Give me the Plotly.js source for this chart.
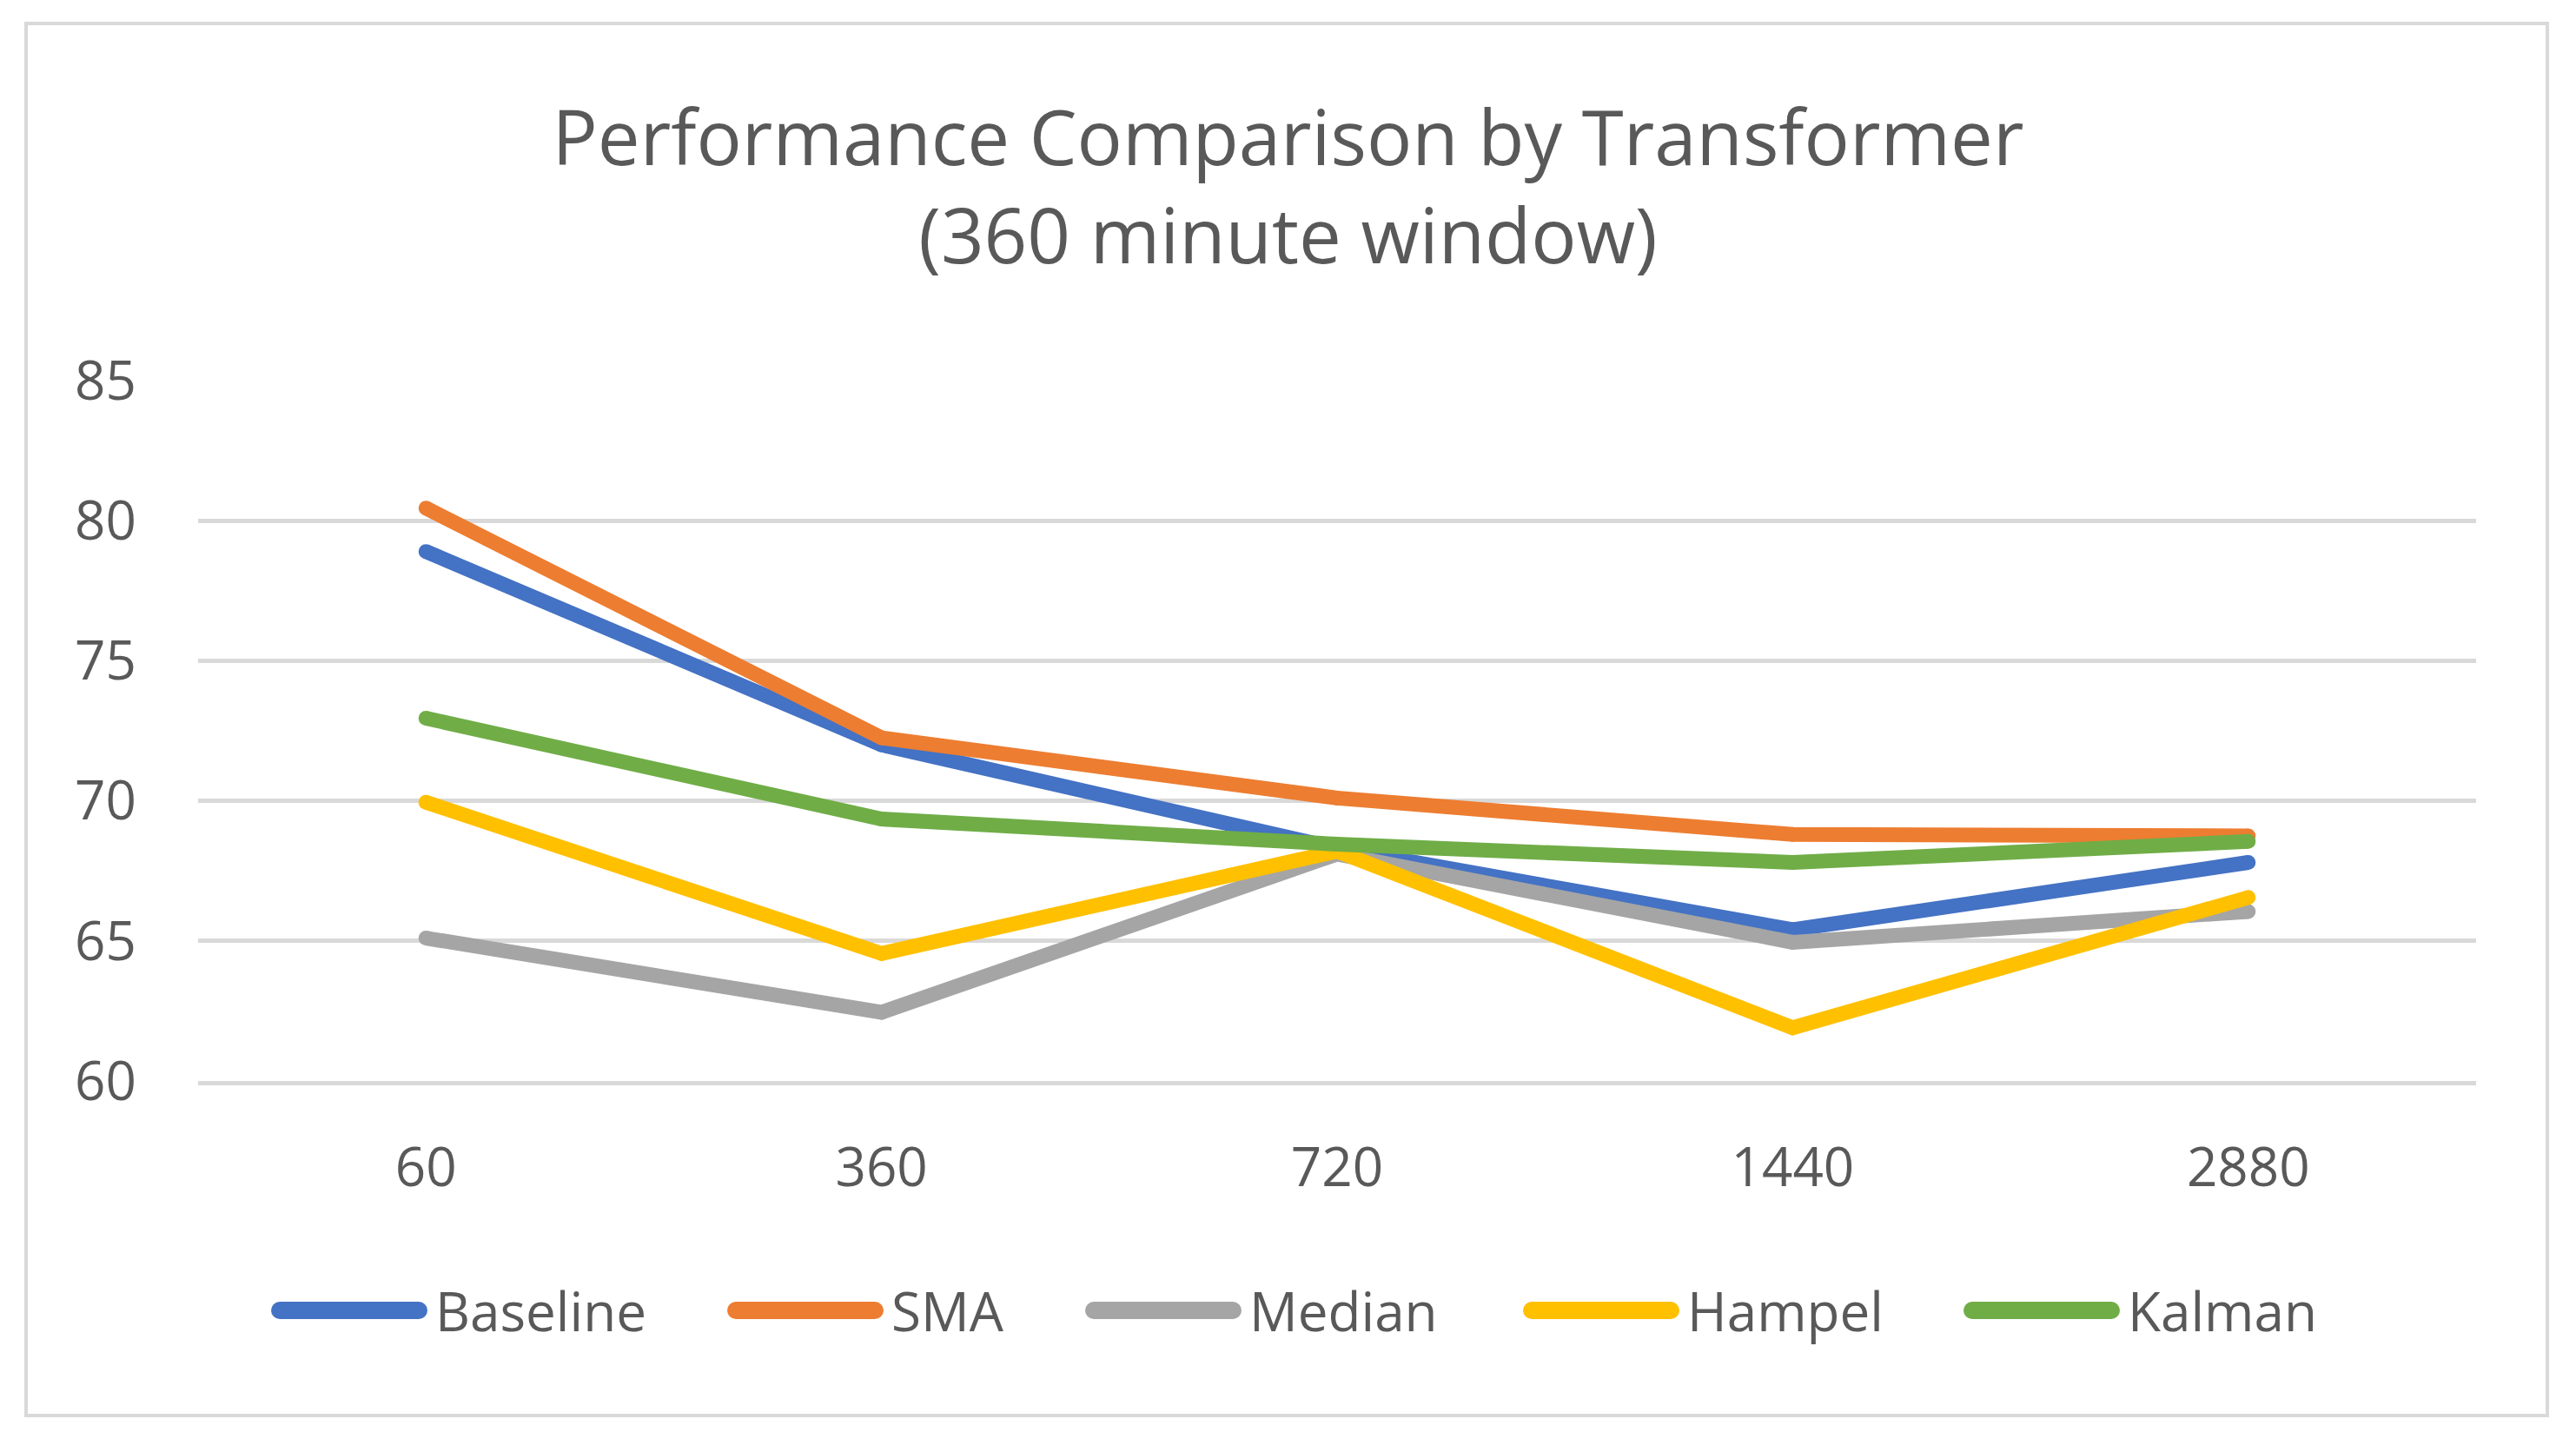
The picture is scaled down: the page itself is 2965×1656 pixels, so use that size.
<!DOCTYPE html>
<html>
<head>
<meta charset="utf-8">
<script src="https://cdn.plot.ly/plotly-3.0.1.min.js"></script>
<style>
  html, body { margin: 0; padding: 0; background: #ffffff; }
  #chart { width: 2965px; height: 1656px; }
</style>
</head>
<body>
<div id="chart"></div>
<script>
// ---- data ----
const windows = ["60", "360", "720", "1440", "2880"];
const baseline = [78.9, 72.0, 68.3, 65.4, 67.8];
const sma      = [80.45, 72.25, 70.1, 68.8, 68.75];
const median   = [65.1, 62.45, 68.1, 64.95, 66.05];
const hampel   = [69.95, 64.55, 68.2, 61.9, 66.55];
const kalman   = [72.95, 69.35, 68.45, 67.8, 68.55];
const seriesNames = ["Baseline", "SMA", "Median", "Hampel", "Kalman"];
const seriesValues = [baseline, sma, median, hampel, kalman];
const seriesColors = ["#4472C4", "#ED7D31", "#A5A5A5", "#FFC000", "#70AD47"];
const yTicks = [60, 65, 70, 75, 80, 85];

// ---- layout geometry (pixels) ----
const W = 2965, H = 1656;
const plotL = 228, plotR = 2850, plotT = 438, plotB = 1244;
const px2x = p => (p - plotL) / (plotR - plotL);
const px2y = p => (plotB - p) / (plotB - plotT);

const LINE_W = 17;
const textColor = "#595959";
const gridColor = "#D9D9D9";

const traces = seriesNames.map((name, i) => ({
  type: "scatter",
  mode: "lines+markers",
  name: name,
  x: windows,
  y: seriesValues[i],
  line: { color: seriesColors[i], width: LINE_W },
  marker: { color: seriesColors[i], size: LINE_W, line: { width: 0 } },
  showlegend: false,
  hoverinfo: "x+y+name"
}));

// custom legend (long rounded swatches like the reference)
const legendY = 1508;
const legendSwatchX = [313, 838, 1250, 1754, 2261];
const swatchLen = 178;
const shapes = [];
const annotations = [];
seriesNames.forEach((name, i) => {
  const x0 = legendSwatchX[i];
  shapes.push({
    type: "line", xref: "paper", yref: "paper",
    x0: px2x(x0 + 9), x1: px2x(x0 + swatchLen - 9),
    y0: px2y(legendY), y1: px2y(legendY),
    line: { color: seriesColors[i], width: 20 }
  });
  [x0 + 9, x0 + swatchLen - 9].forEach(cx => {
    shapes.push({
      type: "circle", xref: "paper", yref: "paper",
      x0: px2x(cx - 10), x1: px2x(cx + 10),
      y0: px2y(legendY + 10), y1: px2y(legendY - 10),
      fillcolor: seriesColors[i], line: { width: 0 }
    });
  });
  annotations.push({
    xref: "paper", yref: "paper",
    x: px2x(x0 + swatchLen + 8), y: px2y(legendY),
    xanchor: "left", yanchor: "middle",
    text: name, showarrow: false,
    font: { family: "Open Sans, sans-serif", size: 62, color: textColor }
  });
});

// outer chart border
shapes.push({
  type: "rect", xref: "paper", yref: "paper", layer: "below",
  x0: px2x(30), x1: px2x(2932), y0: px2y(27), y1: px2y(1629),
  line: { color: gridColor, width: 4 }, fillcolor: "rgba(0,0,0,0)"
});

const layout = {
  width: W, height: H,
  margin: { l: plotL, r: W - plotR, t: plotT, b: H - plotB, pad: 0 },
  paper_bgcolor: "#ffffff",
  plot_bgcolor: "#ffffff",
  font: { family: "Open Sans, sans-serif", color: textColor, size: 62 },
  showlegend: false,
  title: {
    text: "Performance Comparison by Transformer<br>(360 minute window)",
    font: { family: "Open Sans, sans-serif", size: 87, color: textColor },
    x: 0.5, xanchor: "center", xref: "container",
    y: 1 - 190 / H, yanchor: "top", yref: "container"
  },
  xaxis: {
    type: "category",
    categoryorder: "array", categoryarray: windows,
    range: [-0.5, windows.length - 0.5],
    showgrid: false, zeroline: false,
    showline: true, linecolor: gridColor, linewidth: 5,
    ticks: "", ticklabelstandoff: 42,
    tickfont: { size: 62, color: textColor },
    fixedrange: true
  },
  yaxis: {
    range: [60, 85],
    tickvals: yTicks, ticktext: yTicks.map(String),
    showgrid: true, gridcolor: gridColor, gridwidth: 5,
    zeroline: false, showline: false,
    ticks: "", ticklabelstandoff: 70,
    tickfont: { size: 62, color: textColor },
    fixedrange: true
  },
  shapes: shapes,
  annotations: annotations
};

Plotly.newPlot("chart", traces, layout, { displayModeBar: false, staticPlot: true });
</script>
</body>
</html>
